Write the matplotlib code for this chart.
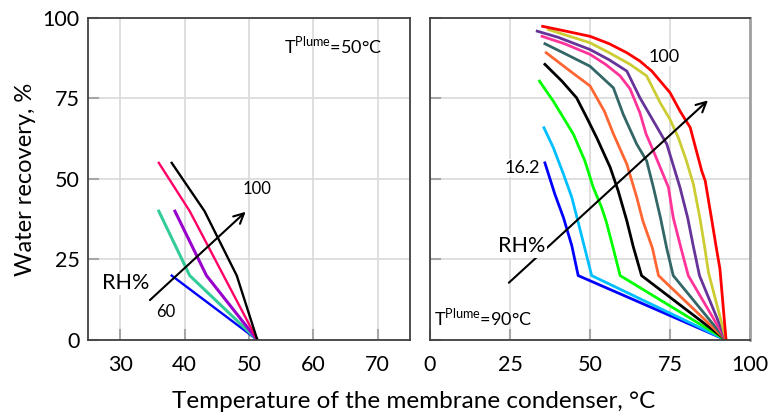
import matplotlib.pyplot as plt

plt.rcParams['font.family'] = ['Lato', 'DejaVu Sans']
plt.rcParams['mathtext.fontset'] = 'custom'
plt.rcParams['mathtext.rm'] = 'Lato'

# T_plume = 50 C, membrane temperature (C) vs water recovery (%)
l_rh60_t = [38.0, 51.3]
l_rh60_wr = [20, 0]
l_rh70_t = [36.0, 40.8, 51.3]
l_rh70_wr = [40, 20, 0]
l_rh80_t = [38.5, 43.4, 51.3]
l_rh80_wr = [40, 20, 0]
l_rh90_t = [36.0, 40.8, 51.3]
l_rh90_wr = [55, 40, 0]
l_rh100_t = [38.0, 43.1, 48.1, 51.3]
l_rh100_wr = [55, 40, 20, 0]
left_colors = ['#0000ff', '#33cc99', '#9900cc', '#ff0066', '#000000']

# T_plume = 90 C
r1_t = [35.9, 39.0, 41.7, 44.3, 46.3, 92.5]
r1_wr = [55, 45.3, 38, 29.3, 20, 0]
r2_t = [35.6, 38.5, 41.7, 44.3, 45.8, 47.9, 50.5, 92.5]
r2_wr = [65.9, 59.8, 51.5, 44.3, 38.5, 30.3, 20, 0]
r3_t = [34.2, 38.5, 41.7, 44.8, 48.4, 51.0, 53.6, 55.0, 57.3, 59.4, 92.5]
r3_wr = [80.4, 74.2, 69, 63.9, 55.6, 47.4, 41.2, 37, 28.3, 20, 0]
r4_t = [35.9, 41.2, 45.8, 49.0, 52.1, 56.3, 58.8, 61.5, 63.5, 66.1, 92.5]
r4_wr = [85.6, 80.4, 75.2, 69, 62.8, 53.6, 46.3, 37, 29, 20, 0]
r5_t = [36.3, 43.8, 50.0, 54.5, 57.3, 61.5, 64.6, 66.5, 69.5, 71.4, 92.5]
r5_wr = [89.2, 83.5, 78.9, 71, 64, 54.6, 44.3, 37, 28.5, 20, 0]
r6_t = [35.9, 42.0, 50.0, 57.3, 60.4, 64.6, 67.7, 69.8, 72.0, 74.0, 76.0, 92.5]
r6_wr = [92, 89, 85, 78.3, 70, 60.8, 55.6, 47.4, 38, 28.3, 20, 0]
r7_t = [35.0, 42.0, 50.0, 55.0, 59.4, 62.5, 65.6, 67.5, 69.8, 74.5, 76.0, 78.3, 80.7, 92.5]
r7_wr = [94.3, 92, 88.7, 85.5, 82, 78, 70.5, 64, 58.7, 47.4, 38, 29, 20, 0]
r8_t = [33.5, 40.0, 50.0, 56.0, 61.5, 65.6, 69.8, 74.0, 78.1, 80.5, 82.3, 84.2, 92.5]
r8_wr = [95.9, 94, 90.2, 87, 83.5, 75.2, 68, 60.8, 47.4, 38, 29, 20, 0]
r9_t = [37.0, 43.0, 50.0, 56.0, 62.5, 67.7, 71.9, 75.0, 77.6, 80.0, 82.3, 84.4, 85.8, 87.0, 92.5]
r9_wr = [96.4, 94.5, 92.3, 89.2, 85.6, 82, 73.7, 68.5, 62.8, 56, 48.4, 37.5, 29, 21, 0]
r10_t = [35.2, 42.0, 50.0, 56.0, 61.5, 65.6, 69.3, 75.0, 78.1, 81.3, 84.9, 86.0, 88.0, 89.4, 90.6, 92.5]
r10_wr = [97.4, 96, 94.3, 92, 89.2, 86.6, 83.5, 76.8, 71.1, 66, 52.5, 49.4, 37.5, 29, 22, 0]
right_colors = ['#0000ff', '#00bfff', '#00ff00', '#000000', '#ff6633',
                '#336666', '#ff3399', '#663399', '#cccc33', '#ff0000']

fig = plt.figure(figsize=(7.73, 4.13), dpi=100)
ax1 = fig.add_axes([0.1138, 0.1768, 0.4166, 0.7797])
ax2 = fig.add_axes([0.5563, 0.1768, 0.414, 0.7797])


def style(ax, xlim, xticks):
    ax.set_xlim(*xlim)
    ax.set_ylim(0, 100)
    ax.set_xticks(xticks)
    ax.set_yticks([0, 25, 50, 75, 100])
    ax.grid(True, color='#d9d9d9', linewidth=1.2)
    ax.set_axisbelow(True)
    ax.tick_params(direction='in', length=8, width=1.5, color='#a6a6a6',
                   labelsize=15.5, pad=6)
    ax.tick_params(axis='x', pad=11)
    for s in ax.spines.values():
        s.set_color('#404040')
        s.set_linewidth(1.3)


style(ax1, (25, 75), [30, 40, 50, 60, 70])
style(ax2, (0, 100), [0, 25, 50, 75, 100])
ax2.set_yticklabels([])
ax2.spines['right'].set_color('#a0a0a0')
ax2.spines['right'].set_linewidth(2)

left = [(l_rh60_t, l_rh60_wr), (l_rh70_t, l_rh70_wr), (l_rh80_t, l_rh80_wr),
        (l_rh90_t, l_rh90_wr), (l_rh100_t, l_rh100_wr)]
for (t, wr), c in zip(left, left_colors):
    lw = 2.2 if c in ('#33cc99', '#9900cc') else 1.7
    ax1.plot(t, wr, color=c, linewidth=lw)

right = [(r1_t, r1_wr), (r2_t, r2_wr), (r3_t, r3_wr), (r4_t, r4_wr),
         (r5_t, r5_wr), (r6_t, r6_wr), (r7_t, r7_wr), (r8_t, r8_wr),
         (r9_t, r9_wr), (r10_t, r10_wr)]
for (t, wr), c in zip(right, right_colors):
    ax2.plot(t, wr, color=c, linewidth=2)

# RH arrows and labels
ax1.annotate('', xy=(49.8, 40.4), xytext=(34.3, 11.8),
             arrowprops=dict(arrowstyle='->', color='black', lw=1.5,
                             mutation_scale=18))
ax1.text(51.2, 46.8, '100', fontsize=12, ha='center', va='center')
ax1.text(37.0, 8.8, '60', fontsize=12, ha='center', va='center')
ax1.text(30.8, 17.6, 'RH%', fontsize=15.5, ha='center', va='center',
         bbox=dict(facecolor='white', edgecolor='none', pad=1))
ax1.text(63, 91.5, r'T$^{\mathrm{Plume}}$=50°C', fontsize=13,
         ha='center', va='center')

ax2.annotate('', xy=(87.5, 75), xytext=(24, 17.2),
             arrowprops=dict(arrowstyle='->', color='black', lw=1.5,
                             mutation_scale=18))
ax2.text(28.6, 29.1, 'RH%', fontsize=15.5, ha='center', va='center',
         bbox=dict(facecolor='white', edgecolor='none', pad=1), zorder=5)
ax2.text(34.5, 53.4, '16.2', fontsize=13, ha='right', va='center',
         bbox=dict(facecolor='white', edgecolor='none', pad=0.5), zorder=5)
ax2.text(73, 87.8, '100', fontsize=13, ha='center', va='center',
         bbox=dict(facecolor='white', edgecolor='none', pad=0.5), zorder=5)
ax2.text(16.7, 7.1, r'T$^{\mathrm{Plume}}$=90°C', fontsize=13,
         ha='center', va='center')

ax1.set_ylabel('Water recovery, %', fontsize=17, labelpad=5)
fig.text(0.535, 0.028, 'Temperature of the membrane condenser, °C',
         fontsize=17.5, ha='center', va='center')

plt.savefig('out.png', dpi=100)
